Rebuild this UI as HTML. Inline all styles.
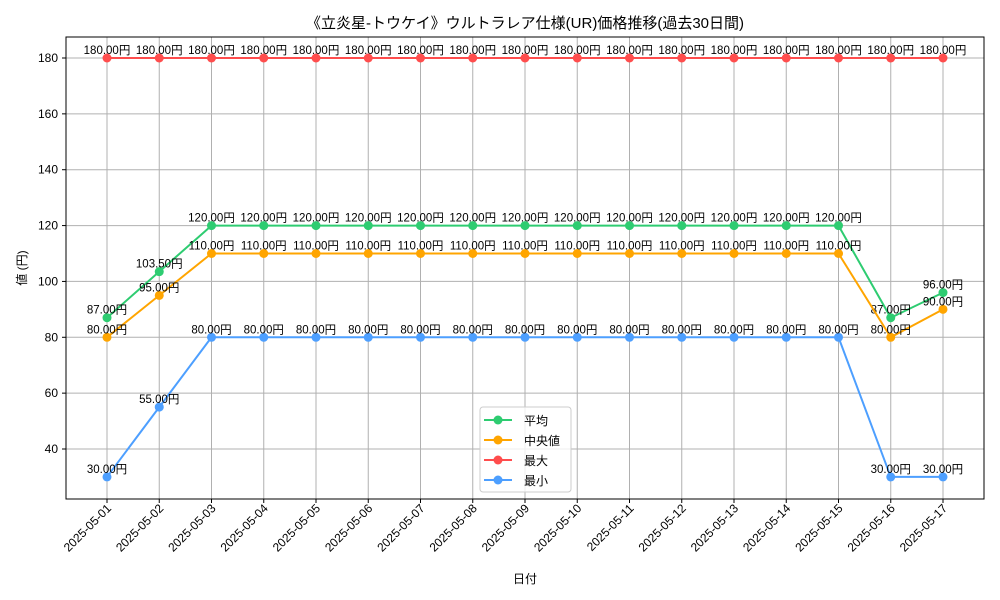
<!DOCTYPE html>
<html><head><meta charset="utf-8"><style>
body{margin:0;background:#fff}
svg{display:block;font-family:"Liberation Sans","Noto Sans CJK JP",sans-serif}
</style></head><body>
<svg id="c" width="1000" height="600" xmlns="http://www.w3.org/2000/svg">
<text x="525" y="28" text-anchor="middle" font-size="15">《立炎星-トウケイ》ウルトラレア仕様(UR)価格推移(過去30日間)</text>
<text x="525" y="583" text-anchor="middle" font-size="12">日付</text>
<text transform="translate(26,268) rotate(-90)" text-anchor="middle" font-size="12">値 (円)</text>
</svg>
<script>
const dates=["2025-05-01","2025-05-02","2025-05-03","2025-05-04","2025-05-05","2025-05-06","2025-05-07","2025-05-08","2025-05-09","2025-05-10","2025-05-11","2025-05-12","2025-05-13","2025-05-14","2025-05-15","2025-05-16","2025-05-17"];
const avgVals=[87,103.5,120,120,120,120,120,120,120,120,120,120,120,120,120,87,96];
const medVals=[80,95,110,110,110,110,110,110,110,110,110,110,110,110,110,80,90];
const maxVals=[180,180,180,180,180,180,180,180,180,180,180,180,180,180,180,180,180];
const minVals=[30,55,80,80,80,80,80,80,80,80,80,80,80,80,80,30,30];
const yTicks=[40,60,80,100,120,140,160,180];
const seriesNames=["平均","中央値","最大","最小"];
const NS="http://www.w3.org/2000/svg";
const svg=document.getElementById('c');
const L=66,R=984,T=37,B=499;
const x0=107,dx=(943-107)/16;
function X(i){return x0+i*dx;}
function Y(v){return 449-(v-40)*(391/140);}
function mk(t,a){const e=document.createElementNS(NS,t);for(const k in a)e.setAttribute(k,a[k]);svg.appendChild(e);return e;}
// grid
yTicks.forEach(v=>{const g=mk('line',{x1:L,x2:R,y1:Y(v),y2:Y(v),stroke:'#b0b0b0','stroke-width':1});


const tk=mk('line',{x1:L-4,x2:L,y1:Y(v),y2:Y(v),stroke:'#000'});


const t=mk('text',{x:L-8,y:Y(v)+4,'text-anchor':'end','font-size':12});t.textContent=v;

});
dates.forEach((d,i)=>{const g=mk('line',{x1:X(i),x2:X(i),y1:T,y2:B,stroke:'#b0b0b0','stroke-width':1});


const tk=mk('line',{x1:X(i),x2:X(i),y1:B,y2:B+4,stroke:'#000'});


const t=mk('text',{x:X(i)+5,y:B+10,'text-anchor':'end','font-size':12,transform:`rotate(-45 ${X(i)+5} ${B+10})`});t.textContent=d;

});
const fr=mk('rect',{x:L,y:T,width:R-L,height:B-T,fill:'none',stroke:'#000'});


const series=[[avgVals,'#2ecc71'],[medVals,'#ffa500'],[maxVals,'#ff4d4d'],[minVals,'#4d9fff']];
series.forEach(([vals,c],s)=>{
 const p=mk('polyline',{points:vals.map((v,i)=>X(i)+','+Y(v)).join(' '),fill:'none',stroke:c,'stroke-width':2});
 
 
 vals.forEach((v,i)=>{const m=mk('circle',{cx:X(i),cy:Y(v),r:4.5,fill:c});
 
 
 const t=mk('text',{x:X(i),y:Y(v)-4,'text-anchor':'middle','font-size':11.5});t.textContent=v.toFixed(2)+'円';
 
 });
});
// legend
const lg=mk('rect',{x:480,y:407,width:91,height:85,rx:3,fill:'#fff','fill-opacity':0.8,stroke:'#ccc'});


series.forEach(([v,c],s)=>{const y=420+s*20;
 const l=mk('line',{x1:484,x2:512,y1:y,y2:y,stroke:c,'stroke-width':2});
 
 
 const m=mk('circle',{cx:498,cy:y,r:4.5,fill:c});
 
 
 const t=mk('text',{x:524,y:y+5,'font-size':12});t.textContent=seriesNames[s];
 
 });
</script>
</body></html>
